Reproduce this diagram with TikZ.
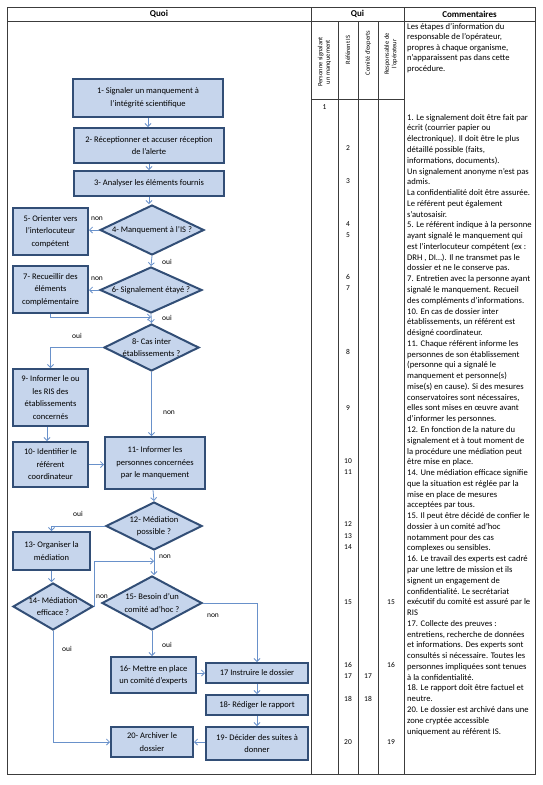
\documentclass[tikz,border=0pt]{standalone}
\usepackage{fontspec}
\setmainfont{Carlito}
\usetikzlibrary{shapes.geometric,arrows.meta,calc}
\definecolor{boxfill}{RGB}{198,213,236}
\definecolor{boxline}{RGB}{50,78,118}
\definecolor{arr}{RGB}{105,145,202}
\definecolor{grid}{RGB}{60,60,60}
\begin{document}
\begin{tikzpicture}[x=1pt,y=-1pt,
  box/.style={draw=boxline, line width=2pt, fill=boxfill, align=center, inner sep=0pt, font=\fontsize{8.5}{12.5}\selectfont},
  dia/.style={diamond, draw=boxline, line width=2pt, fill=boxfill, inner sep=0pt},
  dtext/.style={font=\fontsize{8.5}{12.5}\selectfont, align=center},
  con/.style={draw=arr, line width=0.8pt, -{Straight Barb[length=3pt,width=6pt]}},
  lbl/.style={font=\fontsize{7.5}{8}\selectfont, inner sep=0pt},
  num/.style={font=\fontsize{7.5}{8}\selectfont, inner sep=0pt},
  hdr/.style={font=\fontsize{9}{10}\selectfont\bfseries, inner sep=0pt},
  vhdr/.style={font=\fontsize{6.5}{7.5}\selectfont, rotate=90, align=center, inner sep=0pt},
  cmt/.style={anchor=north west, inner sep=0pt, align=left, font=\fontsize{8.6}{10.77}\selectfont},
  grd/.style={draw=grid, line width=0.9pt}]
\useasboundingbox (0,0) rectangle (542,785);
% table
\draw[grd] (7,7) rectangle (535,774);
\draw[grd] (7,21) -- (535,21);
\draw[grd] (311,7) -- (311,774);
\draw[grd] (404,7) -- (404,774);
\draw[grd] (311,99) -- (404,99);
\draw[grd] (338,21) -- (338,774);
\draw[grd] (358,21) -- (358,774);
\draw[grd] (378,21) -- (378,774);
\node[hdr] (hquoi) at (159,14) {Quoi};
\node[hdr] (hqui) at (357.5,14) {Qui};
\node[hdr] (hcom) at (469.5,14) {Commentaires};
\node[vhdr] (v1) at (324.5,62) {Personne signalant\\un manquement};
\node[vhdr] (v2) at (348,50) {Référent IS};
\node[vhdr] (v3) at (368,53) {Comité d’experts};
\node[vhdr] (v4) at (391,54) {Responsable de\\l’opérateur};
% numbers
\node[num] (n1) at (324.5,107) {1};
\node[num] (n2) at (348,148) {2};
\node[num] (n3) at (348,181) {3};
\node[num] (n4) at (348,224) {4};
\node[num] (n5) at (348,235) {5};
\node[num] (n6) at (348,277) {6};
\node[num] (n7) at (348,288) {7};
\node[num] (n8) at (348,352) {8};
\node[num] (n9) at (348,408) {9};
\node[num] (n10) at (348,461) {10};
\node[num] (n11) at (348,472) {11};
\node[num] (n12) at (348,524) {12};
\node[num] (n13) at (348,536) {13};
\node[num] (n14) at (348,547) {14};
\node[num] (n15) at (348,602) {15};
\node[num] (n16) at (348,665) {16};
\node[num] (n17) at (348,676) {17};
\node[num] (n18) at (348,699) {18};
\node[num] (n20) at (348,742) {20};
\node[num] (m17) at (368,676) {17};
\node[num] (m18) at (368,699) {18};
\node[num] (r15) at (391,602) {15};
\node[num] (r16) at (391,665) {16};
\node[num] (r19) at (391,742) {19};
% comments
\node[cmt, font=\fontsize{8.6}{10.5}\selectfont] (c0) at (407,23) {Les étapes d’information du\\responsable de l’opérateur,\\propres à chaque organisme,\\n’apparaissent pas dans cette\\procédure.};
\node[cmt] (c1) at (407,114) {1. Le signalement doit être fait par\\écrit (courrier papier ou\\électronique). Il doit être le plus\\détaillé possible (faits,\\informations, documents).\\Un signalement anonyme n’est pas\\admis.\\La confidentialité doit être assurée.\\Le référent peut également\\s’autosaisir.\\5. Le référent indique à la personne\\ayant signalé le manquement qui\\est l’interlocuteur compétent (ex :\\DRH , DI…). Il ne transmet pas le\\dossier et ne le conserve pas.\\7. Entretien avec la personne ayant\\signalé le manquement. Recueil\\des compléments d’informations.\\10. En cas de dossier inter\\établissements, un référent est\\désigné coordinateur.\\11. Chaque référent informe les\\personnes de son établissement\\(personne qui a signalé le\\manquement et personne(s)\\mise(s) en cause). Si des mesures\\conservatoires sont nécessaires,\\elles sont mises en œuvre avant\\d’informer les personnes.\\12. En fonction de la nature du\\signalement et à tout moment de\\la procédure une médiation peut\\être mise en place.\\14. Une médiation efficace signifie\\que la situation est réglée par la\\mise en place de mesures\\acceptées par tous.\\15. Il peut être décidé de confier le\\dossier à un comité ad’hoc\\notamment pour des cas\\complexes ou sensibles.\\16. Le travail des experts est cadré\\par une lettre de mission et ils\\signent un engagement de\\confidentialité. Le secrétariat\\exécutif du comité est assuré par le\\RIS\\17. Collecte des preuves :\\entretiens, recherche de données\\et informations. Des experts sont\\consultés si nécessaire. Toutes les\\personnes impliquées sont tenues\\à la confidentialité.\\18. Le rapport doit être factuel et\\neutre.\\20. Le dossier est archivé dans une\\zone cryptée accessible\\uniquement au référent IS.};
% boxes
\node[box, minimum width=150pt, minimum height=38pt] (b1) at (148,98) {1- Signaler un manquement à\\l’intégrité scientifique};
\node[box, minimum width=150pt, minimum height=35pt] (b2) at (149,145.5) {2- Réceptionner et accuser réception\\de l’alerte};
\node[box, minimum width=150pt, minimum height=25pt] (b3) at (149,183.5) {3- Analyser les éléments fournis};
\node[box, minimum width=75pt, minimum height=47pt] (b5) at (50.5,231.5) {5- Orienter vers\\l’interlocuteur\\compétent};
\node[box, minimum width=75pt, minimum height=47pt] (b7) at (50.5,289.5) {7- Recueillir des\\éléments\\complémentaire};
\node[box, minimum width=75pt, minimum height=57pt] (b9) at (50.5,397.5) {9- Informer le ou\\les RIS des\\établissements\\concernés};
\node[box, minimum width=75pt, minimum height=45pt] (b10) at (50.5,464.5) {10- Identifier le\\référent\\coordinateur};
\node[box, minimum width=100pt, minimum height=52pt] (b11) at (155,463) {11- Informer les\\personnes concernées\\par le manquement};
\node[box, minimum width=77pt, minimum height=38pt] (b13) at (51.5,551) {13- Organiser la\\médiation};
\node[box, minimum width=85pt, minimum height=36pt] (b16) at (153.5,675) {16- Mettre en place\\un comité d’experts};
\node[box, minimum width=102pt, minimum height=20pt] (b17) at (257,673) {17 Instruire le dossier};
\node[box, minimum width=102pt, minimum height=20pt] (b18) at (257,705) {18- Rédiger le rapport};
\node[box, minimum width=102pt, minimum height=33pt] (b19) at (257,743.5) {19- Décider des suites à\\donner};
\node[box, minimum width=82pt, minimum height=30pt] (b20) at (152,742) {20- Archiver le\\dossier};
% diamonds
\node[dia, minimum width=104pt, minimum height=50pt, label={[dtext]center:4- Manquement à l’IS ?}] (d4) at (152,230) {};
\node[dia, minimum width=102pt, minimum height=46pt, label={[dtext]center:6- Signalement étayé ?}] (d6) at (151,290) {};
\node[dia, minimum width=95pt, minimum height=47pt, label={[dtext]center:8- Cas inter\\établissements ?}] (d8) at (151.5,347.5) {};
\node[dia, minimum width=96pt, minimum height=48pt, label={[dtext]center:12- Médiation\\possible ?}] (d12) at (154,526) {};
\node[dia, minimum width=80pt, minimum height=47pt, label={[dtext]center:14- Médiation\\efficace ?}] (d14) at (53,606.5) {};
\node[dia, minimum width=100pt, minimum height=54pt, label={[dtext]center:15- Besoin d’un\\comité ad’hoc ?}] (d15) at (152,603) {};
% connectors
\draw[con] (b1.south) -- (b1.south |- b2.north);
\draw[con] (b2.south) -- (b2.south |- b3.north);
\draw[con] (b3.south) -- (b3.south |- d4.north);
\draw[con] (d4.west) -- (d4.west -| b5.east);
\draw[con] (d4.south) -- (d6.north);
\draw[con] (d6.west) -- (d6.west -| b7.east);
\draw[con] (d6.south) -- (d8.north);
\coordinate (j7) at (151,317);
\draw[con] (b7.south) |- (j7);
\draw[con] (d8.west) -| (b9.north);
\draw[con] (d8.south) -- (d8.south |- b11.north);
\draw[con] ([xshift=-3.5pt]b9.south) -- ([xshift=-3.5pt]b10.north);
\draw[con] (b10.east) -- (b10.east -| b11.west);
\draw[con] ([xshift=-2pt]b11.south) -- (d12.north);
\draw[con] (d12.west) -| (b13.north);
\draw[con] (d12.south) -- (d12.south |- d15.north);
\coordinate (j14) at (154,561);
\draw[con] (d14.east) |- (j14);
\draw[con] (b13.south) -- (b13.south |- d14.north);
\draw[con] (d15.east) -| (b17.north);
\draw[con] (d15.south) -- (d15.south |- b16.north);
\draw[con] (b16.east |- b17.west) -- (b17.west);
\draw[con] (b17.south) -- (b18.north);
\draw[con] (b18.south) -- (b19.north);
\draw[con] (b19.west |- b20.east) -- (b20.east);
\draw[con] (d14.south) |- (b20.west);
% labels
\node[lbl] (l1) at (97,219) {non};
\node[lbl] (l2) at (167,262) {oui};
\node[lbl] (l3) at (97,279) {non};
\node[lbl] (l4) at (167,318) {oui};
\node[lbl] (l5) at (77,336) {oui};
\node[lbl] (l6) at (169,413) {non};
\node[lbl] (l7) at (78,514) {oui};
\node[lbl] (l8) at (165,557) {non};
\node[lbl] (l9) at (102,597) {non};
\node[lbl] (l10) at (213,616) {non};
\node[lbl] (l11) at (167,645) {oui};
\node[lbl] (l12) at (67,649) {oui};
\end{tikzpicture}
\end{document}
